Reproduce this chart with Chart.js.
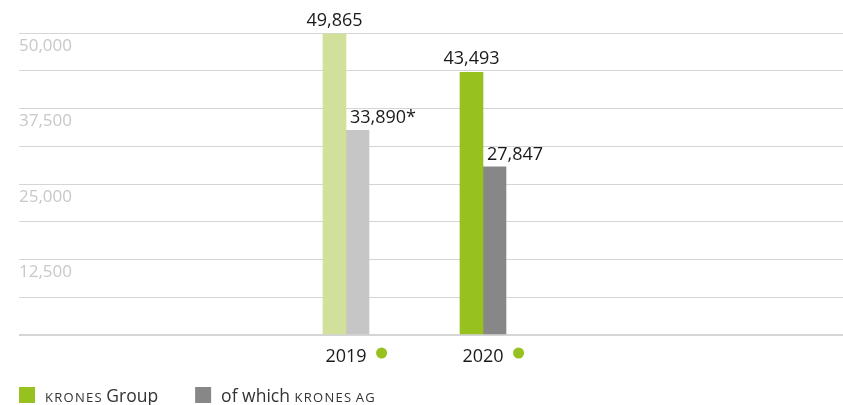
<!DOCTYPE html>
<html>
<head>
<meta charset="utf-8">
<script src="https://cdn.jsdelivr.net/npm/chart.js@4.4.1/dist/chart.umd.min.js"></script>
<style>
  body { margin: 0; background: #fff; }
  #wrap { width: 843px; height: 405px; }
</style>
</head>
<body>
<div id="wrap"><canvas id="employeesChart"></canvas></div>
<script>
// values
const years = ['2019', '2020'];
const groupValues = [49865, 43493];
const agValues = [33890, 27847];
const agNotes = ['*', ''];
const yTickLabels = [12500, 25000, 37500, 50000];
const seriesNames = ['KRONES Group', 'of which KRONES AG'];

const groupColors = ['#d1e09b', '#97c11f'];
const agColors = ['#c6c6c6', '#878787'];
const FONT = '"Open Sans", sans-serif';

// numbers above the bars
const valueLabels = {
    id: 'valueLabels',
    afterDatasetsDraw(chart) {
        const ctx = chart.ctx;
        ctx.save();
        ctx.font = '18px ' + FONT;
        ctx.fillStyle = '#1a1a1a';
        ctx.textBaseline = 'alphabetic';
        chart.data.datasets.forEach((ds, i) => {
            chart.getDatasetMeta(i).data.forEach((bar, j) => {
                const text = ds.data[j].toLocaleString('en-US') + (ds.notes ? ds.notes[j] : '');
                if (i === 0) {
                    ctx.textAlign = 'center';
                    ctx.fillText(text, bar.x, bar.y - 8);
                } else {
                    ctx.textAlign = 'left';
                    ctx.fillText(text, bar.x - bar.width / 2 + 4, bar.y - 7);
                }
            });
        });
        ctx.restore();
    }
};

// green dot next to each year
const yearDots = {
    id: 'yearDots',
    afterDraw(chart) {
        const scale = chart.scales.x;
        const ctx = chart.ctx;
        ctx.save();
        ctx.font = '18px ' + FONT;
        ctx.fillStyle = '#97c11f';
        scale.ticks.forEach(t => {
            const w = ctx.measureText(t.label).width;
            ctx.beginPath();
            ctx.arc(scale.getPixelForValue(t.value) + w / 2 + 15, scale.top + 18, 5.5, 0, Math.PI * 2);
            ctx.fill();
        });
        ctx.restore();
    }
};

// legend with small caps for the company name
function drawWords(ctx, text, x, y) {
    const words = text.split(' ');
    words.forEach((word, k) => {
        if (/^[A-Z]{2,}$/.test(word)) {
            ctx.font = '13px ' + FONT;
            for (const ch of word) {
                ctx.fillText(ch, x, y);
                x += ctx.measureText(ch).width + 1.3;
            }
            x -= 1.3;
        } else {
            ctx.font = '17.5px ' + FONT;
            ctx.fillText(word, x, y);
            x += ctx.measureText(word).width;
        }
        ctx.font = '17.5px ' + FONT;
        if (k < words.length - 1) x += ctx.measureText(' ').width;
    });
    return x;
}

const bottomLegend = {
    id: 'bottomLegend',
    afterDraw(chart) {
        const ctx = chart.ctx;
        ctx.save();
        ctx.textBaseline = 'alphabetic';
        ctx.textAlign = 'left';
        let x = 19;
        const y = chart.height - 3;
        chart.data.datasets.forEach(ds => {
            const colors = ds.backgroundColor;
            ctx.fillStyle = colors[colors.length - 1];
            ctx.fillRect(x, y - 15, 16, 16);
            ctx.fillStyle = '#333333';
            x = drawWords(ctx, ds.label, x + 26, y) + 37;
        });
        ctx.restore();
    }
};

new Chart(document.getElementById('employeesChart'), {
    type: 'bar',
    data: {
        labels: years,
        datasets: [
            { label: seriesNames[0], data: groupValues, backgroundColor: groupColors },
            { label: seriesNames[1], data: agValues, backgroundColor: agColors, notes: agNotes }
        ]
    },
    options: {
        responsive: true,
        maintainAspectRatio: false,
        animation: false,
        barThickness: 23,
        layout: { padding: { top: 33, left: 19, right: 0, bottom: 34 } },
        plugins: {
            legend: { display: false },
            tooltip: { enabled: false }
        },
        scales: {
            x: {
                type: 'linear',
                offset: false,
                min: 2016.613,
                max: 2022.628,
                grid: { display: false, offset: false },
                border: { display: false },
                afterBuildTicks: s => { s.ticks = years.map(y => ({ value: +y })); },
                afterFit: s => { s.height = 36; },
                ticks: {
                    autoSkip: false,
                    maxRotation: 0,
                    padding: 3,
                    color: '#1a1a1a',
                    font: { size: 18, family: FONT },
                    callback: v => String(v)
                }
            },
            y: {
                min: 0,
                max: 50000,
                border: { display: false },
                grid: {
                    color: '#d5d5d5',
                    drawTicks: false,
                    lineWidth: c => (c.tick && c.tick.value === 0 ? 2 : 1)
                },
                ticks: {
                    stepSize: 6250,
                    mirror: true,
                    padding: 0,
                    labelOffset: 13,
                    color: '#c8c8c8',
                    font: { size: 17, family: FONT },
                    callback: v => (yTickLabels.includes(v) ? v.toLocaleString('en-US') : '')
                }
            }
        }
    },
    plugins: [valueLabels, yearDots, bottomLegend]
});
</script>
</body>
</html>
